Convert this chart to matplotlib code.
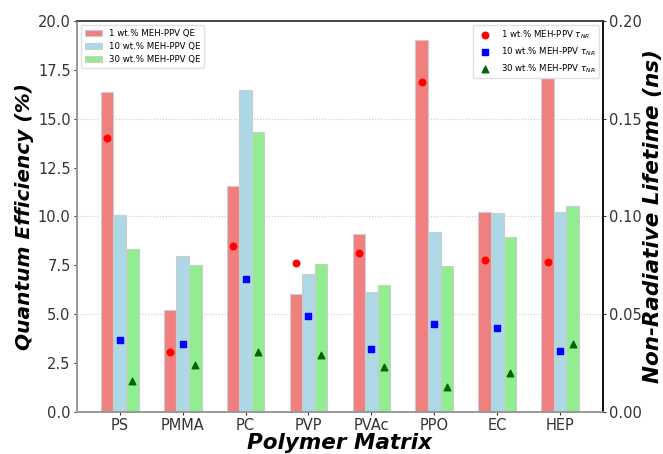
import matplotlib
matplotlib.use("Agg")
import matplotlib.pyplot as plt
import numpy as np

categories = ["PS", "PMMA", "PC", "PVP", "PVAc", "PPO", "EC", "HEP"]
qe_1 = [16.37, 5.20, 11.56, 6.03, 9.08, 19.02, 10.25, 17.10]
qe_10 = [10.07, 7.96, 16.45, 7.07, 6.12, 9.20, 10.20, 10.24]
qe_30 = [8.31, 7.51, 14.31, 7.56, 6.47, 7.48, 8.93, 10.54]
tau_1 = [0.1402, 0.0308, 0.0848, 0.0760, 0.0811, 0.1688, 0.0777, 0.0768]
tau_10 = [0.0369, 0.0349, 0.0680, 0.0489, 0.0320, 0.0450, 0.0429, 0.0310]
tau_30 = [0.0157, 0.0240, 0.0308, 0.0290, 0.0230, 0.0129, 0.0199, 0.0347]
grid_levels = [5, 10, 15]

fig = plt.figure(figsize=(6.63, 4.54), dpi=100)
ax1 = fig.add_subplot(111)
fig.subplots_adjust(left=0.116, right=0.9095, top=0.954, bottom=0.0925)

x = np.arange(len(categories))
w = 0.2
ec = "#cccccc"
ax1.bar(x - w, qe_1, w, color="lightcoral", edgecolor=ec, linewidth=0.8, label="1 wt.% MEH-PPV QE", zorder=2)
ax1.bar(x, qe_10, w, color="lightblue", edgecolor=ec, linewidth=0.8, label="10 wt.% MEH-PPV QE", zorder=2)
ax1.bar(x + w, qe_30, w, color="lightgreen", edgecolor=ec, linewidth=0.8, label="30 wt.% MEH-PPV QE", zorder=2)
for g in grid_levels:
    ax1.axhline(g, color="#cccccc", linestyle=":", linewidth=0.8, zorder=0)

ax1.set_ylim(0, 20)
ax1.set_yticks(np.arange(0, 20.1, 2.5))
ax1.set_xticks(x)
ax1.set_xticklabels(categories)
ax1.tick_params(axis="both", labelsize=10.5, colors="#333333", length=2.5, pad=2)
ax1.set_xlabel("Polymer Matrix", fontsize=15.5, fontweight="bold", style="italic", labelpad=0)
ax1.set_ylabel("Quantum Efficiency (%)", fontsize=14.5, fontweight="bold", style="italic", labelpad=3)

ax2 = ax1.twinx()
ax2.scatter(x - w, tau_1, color="red", marker="o", s=22, label="1 wt.% MEH-PPV $\\tau_{NR}$", zorder=3)
ax2.scatter(x, tau_10, color="blue", marker="s", s=20, label="10 wt.% MEH-PPV $\\tau_{NR}$", zorder=3)
ax2.scatter(x + w, tau_30, color="darkgreen", marker="^", s=22, label="30 wt.% MEH-PPV $\\tau_{NR}$", zorder=3)
ax2.set_ylim(0, 0.2)
ax2.set_yticks(np.arange(0, 0.201, 0.05))
ax2.set_yticklabels([f"{v:.2f}" for v in np.arange(0, 0.201, 0.05)])
ax2.tick_params(axis="y", labelsize=10.5, colors="#333333", length=2.5, pad=1.5)
ax2.set_ylabel("Non-Radiative Lifetime (ns)", fontsize=15.5, fontweight="bold", style="italic", labelpad=1)

for a in (ax1, ax2):
    a.spines["left"].set_color("#999999")
    a.spines["bottom"].set_color("#999999")
    a.spines["top"].set_color("#444444")
    a.spines["right"].set_color("#111111")
    for s in a.spines.values():
        s.set_linewidth(1.2)

ax1.legend(loc="upper left", fontsize=6.2, framealpha=0.9, edgecolor="#dddddd")
ax2.legend(loc="upper right", fontsize=6.2, framealpha=0.9, edgecolor="#dddddd")

fig.savefig("out.png", dpi=100)
